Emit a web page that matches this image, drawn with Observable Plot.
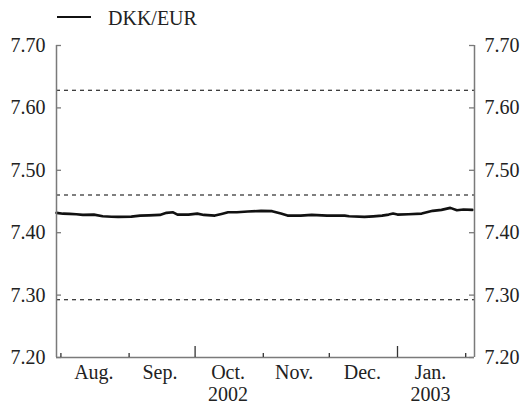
<!DOCTYPE html>
<html>
<head>
<meta charset="utf-8">
<script src="https://cdn.jsdelivr.net/npm/d3@7"></script>
<script src="https://cdn.jsdelivr.net/npm/@observablehq/plot@0.6"></script>
<style>
  html, body { margin: 0; padding: 0; background: #fff; }
  svg { display: block; }
</style>
</head>
<body>
<div id="wrap" style="width:523px;color:#222;font-family:'Liberation Serif',serif;">
  <div id="legend" style="position:relative;height:30px;">
    <div style="position:absolute;left:57px;top:16px;width:34px;height:0;border-top:2.5px solid #111;"></div>
    <div id="legendLabel" style="position:absolute;left:108px;top:5px;font-size:20px;line-height:26px;font-family:'Liberation Serif',serif;"></div>
  </div>
  <div id="chart"></div>
</div>
<script>
// Series name
const seriesName = "DKK/EUR";
const dates = [
  "2002-07-30","2002-08-02","2002-08-05","2002-08-08","2002-08-11","2002-08-16","2002-08-20","2002-08-24","2002-08-27",
  "2002-09-02","2002-09-06","2002-09-10","2002-09-15","2002-09-18","2002-09-21","2002-09-23","2002-09-28",
  "2002-10-02","2002-10-05","2002-10-10","2002-10-13","2002-10-16","2002-10-20","2002-10-25","2002-10-31",
  "2002-11-05","2002-11-09","2002-11-12","2002-11-18","2002-11-23","2002-11-30",
  "2002-12-04","2002-12-08","2002-12-10","2002-12-17","2002-12-21","2002-12-25","2002-12-28","2002-12-30",
  "2003-01-01","2003-01-06","2003-01-12","2003-01-17","2003-01-21","2003-01-25","2003-01-28","2003-01-31","2003-02-04"
];
const values = [
  7.4318,7.4305,7.4302,7.4296,7.4285,7.4290,7.4263,7.4256,7.4253,
  7.4258,7.4274,7.4278,7.4285,7.4318,7.4327,7.4290,7.4290,
  7.4306,7.4285,7.4274,7.4300,7.4327,7.4327,7.4339,7.4350,
  7.4345,7.4306,7.4274,7.4274,7.4285,7.4274,
  7.4276,7.4274,7.4263,7.4253,7.4262,7.4274,7.4290,7.4306,
  7.4290,7.4296,7.4306,7.4350,7.4366,7.4398,7.4360,7.4371,7.4366
];
// ERM II central rate and fluctuation band limits
const bandLines = [7.62824, 7.46038, 7.29252];
// Y axis ticks
const yTicks = [7.2, 7.3, 7.4, 7.5, 7.6, 7.7];
// X axis: month boundaries, quarter boundaries, month labels, year labels
const monthStarts = ["2002-08-01","2002-09-01","2002-11-01","2002-12-01","2003-02-01"];
const quarterStarts = ["2002-10-01","2003-01-01"];
const monthLabelDates = ["2002-08-16","2002-09-15","2002-10-16","2002-11-15","2002-12-16","2003-01-16"];
const monthLabels = ["Aug.","Sep.","Oct.","Nov.","Dec.","Jan."];
const yearLabelDates = ["2002-10-16","2003-01-16"];
const yearLabels = ["2002","2003"];
const xDomain = ["2002-07-30","2003-02-05"];

document.getElementById("legendLabel").textContent = seriesName;

const parse = d3.utcParse("%Y-%m-%d");
const data = dates.map((d, i) => ({date: parse(d), value: values[i]}));
const xd = xDomain.map(parse);

const W = 523, H = 378;
const mL = 56, mR = 49, mT = 15, mB = 51;
const pw = W - mL - mR, ph = H - mT - mB;
const axisColor = "#7a7a7a";
const serif = "Liberation Serif";

const monthFmt = new Map(monthLabelDates.map((d, i) => [+parse(d), monthLabels[i]]));
const yearFmt = new Map(yearLabelDates.map((d, i) => [+parse(d), yearLabels[i]]));

const chart = Plot.plot({
  width: W, height: H,
  marginLeft: mL, marginRight: mR, marginTop: mT, marginBottom: mB,
  style: {fontSize: "20px", color: "#222", background: "#fff"},
  x: {type: "utc", domain: xd},
  y: {domain: [7.2, 7.7]},
  marks: [
    Plot.ruleY(bandLines, {stroke: "#000", strokeWidth: 1.1, strokeDasharray: "4,4"}),
    Plot.lineY(data, {x: "date", y: "value", stroke: "#111", strokeWidth: 2.6, curve: "linear"}),
    // axis lines
    Plot.ruleX([xd[0]], {stroke: axisColor, strokeWidth: 1.5}),
    Plot.ruleX([xd[1]], {stroke: axisColor, strokeWidth: 1.5}),
    Plot.ruleY([7.2], {stroke: axisColor, strokeWidth: 1.5}),
    // inward ticks
    Plot.tickY(yTicks, {stroke: axisColor, strokeWidth: 1.3, insetRight: pw - 5}),
    Plot.tickY(yTicks, {stroke: axisColor, strokeWidth: 1.3, insetLeft: pw - 5}),
    Plot.tickX(monthStarts.map(parse), {stroke: "#333", strokeWidth: 1.3, insetTop: ph - 4}),
    Plot.tickX(quarterStarts.map(parse), {stroke: "#333", strokeWidth: 1.3, insetTop: ph - 11}),
    // labels
    Plot.axisY({anchor: "left", ticks: yTicks, tickSize: 0, tickPadding: 11, tickFormat: d3.format(".2f"), label: null}),
    Plot.axisY({anchor: "right", ticks: yTicks, tickSize: 0, tickPadding: 10, tickFormat: d3.format(".2f"), label: null}),
    Plot.axisX({anchor: "bottom", ticks: monthLabelDates.map(parse), tickSize: 0, tickPadding: 7, tickFormat: d => monthFmt.get(+d), label: null}),
    Plot.axisX({anchor: "bottom", ticks: yearLabelDates.map(parse), tickSize: 0, tickPadding: 29, tickFormat: d => yearFmt.get(+d), label: null})
  ]
});
chart.setAttribute("font-family", serif);
chart.querySelectorAll("g[font-family]").forEach(g => g.setAttribute("font-family", serif));
chart.querySelectorAll("text").forEach(t => t.style.fontFamily = "'Liberation Serif', serif");
document.getElementById("chart").appendChild(chart);
</script>
</body>
</html>
